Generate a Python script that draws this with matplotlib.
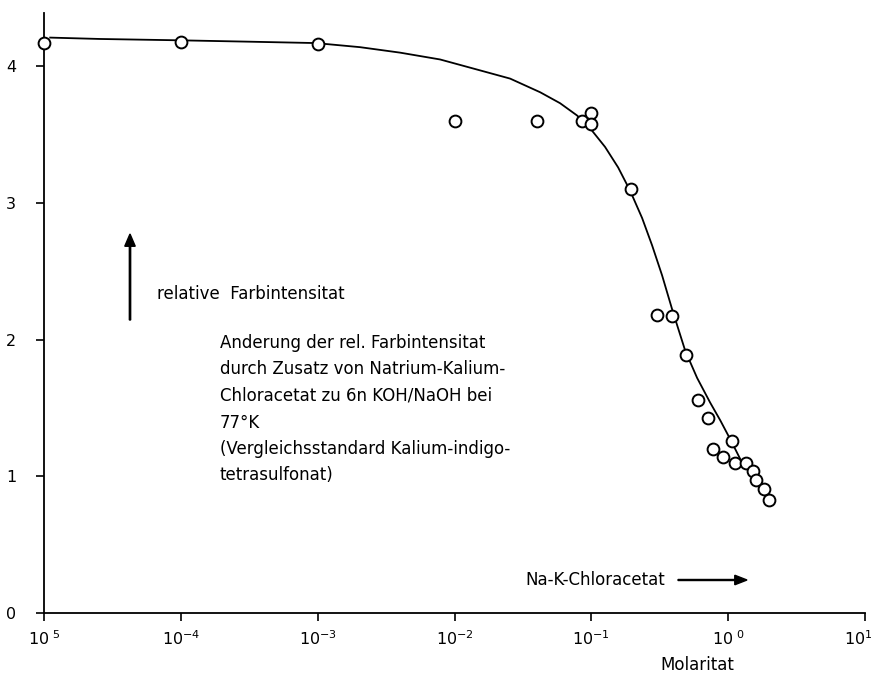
import matplotlib.pyplot as plt
from matplotlib.patches import FancyArrow
from matplotlib.transforms import ScaledTranslation

plt.rcParams['mathtext.default'] = 'regular'

# measured points (Molaritat, relative Farbintensitat)
molar = [1e-5, 1e-4, 1e-3, 1e-2, 0.040, 0.086, 0.10, 0.10, 0.196, 0.30,
         0.39, 0.49, 0.60, 0.71, 0.78, 0.91, 1.06, 1.13, 1.34, 1.51,
         1.59, 1.82, 2.0]
intens = [4.17, 4.18, 4.16, 3.60, 3.60, 3.60, 3.66, 3.58, 3.10, 2.18,
          2.17, 1.89, 1.56, 1.43, 1.20, 1.14, 1.26, 1.10, 1.10, 1.04,
          0.97, 0.91, 0.83]

# hand drawn curve
curve_x = [1.11e-5, 2.56e-5, 1e-4, 3.2e-4, 9.7e-4, 2.04e-3, 4.0e-3, 7.85e-3,
           0.0154, 0.0255, 0.0423, 0.0591, 0.0787, 0.101, 0.126, 0.157,
           0.192, 0.235, 0.278, 0.329, 0.390, 0.485, 0.593, 0.738, 0.875,
           1.05, 1.22]
curve_y = [4.21, 4.20, 4.19, 4.18, 4.17, 4.14, 4.10, 4.05,
           3.97, 3.91, 3.81, 3.73, 3.64, 3.53, 3.41, 3.26,
           3.09, 2.89, 2.69, 2.47, 2.22, 1.92, 1.72, 1.54, 1.41,
           1.26, 1.13]

xticks = [1e-5, 1e-4, 1e-3, 1e-2, 1e-1, 1e0, 1e1]
xtick_labels = [r'10$^{\ 5}$', r'10$^{-4}$', r'10$^{-3}$', r'10$^{-2}$',
                r'10$^{-1}$', r'10$^{\ 0}$', r'10$^{1}$']
yticks = [0, 1, 2, 3, 4]


def main():
    fig = plt.figure(figsize=(8.73, 6.81), dpi=100)
    ax = fig.add_axes([44 / 873, 68 / 681, 821 / 873, 600 / 681])

    ax.plot(curve_x, curve_y, color='black', lw=1.3, zorder=2)
    ax.plot(molar, intens, 'o', mfc='white', mec='black', mew=1.4, ms=8.5,
            zorder=3, clip_on=False)

    ax.set_xscale('log')
    ax.set_xlim(1e-5, 1e1)
    ax.set_ylim(0, 4.39)
    ax.set_xticks(xticks)
    ax.set_xticklabels(xtick_labels, fontsize=11.5)
    ax.minorticks_off()
    ax.set_yticks(yticks)
    ax.set_yticklabels([str(v) for v in yticks], fontsize=11.5)
    ax.tick_params(axis='both', direction='out', length=6, width=1.2)
    ax.tick_params(axis='y', pad=14)
    ax.tick_params(axis='x', pad=6)
    last = ax.get_xticklabels()[-1]
    last.set_transform(last.get_transform()
                       + ScaledTranslation(-0.07, 0, fig.dpi_scale_trans))

    ax.spines['top'].set_visible(False)
    ax.spines['right'].set_visible(False)
    ax.spines['left'].set_linewidth(1.3)
    ax.spines['bottom'].set_linewidth(1.3)

    # annotations placed in figure pixels
    fig.text(697 / 873, 1 - 665 / 681, 'Molaritat', ha='center', va='center',
             fontsize=12)
    fig.text(665 / 873, 1 - 580 / 681, 'Na-K-Chloracetat', ha='right',
             va='center', fontsize=12)
    fig.patches.append(FancyArrow(
        678 / 873, 1 - 580 / 681, 69 / 873, 0, width=0.0015,
        head_width=0.014, head_length=0.014, length_includes_head=True,
        color='black', transform=fig.transFigure))
    fig.patches.append(FancyArrow(
        130 / 873, 1 - 320 / 681, 0, 86 / 681, width=0.0015,
        head_width=0.012, head_length=0.018, length_includes_head=True,
        color='black', transform=fig.transFigure))
    fig.text(157 / 873, 1 - 294 / 681, 'relative  Farbintensitat',
             ha='left', va='center', fontsize=12)

    lines = ['Anderung der rel. Farbintensitat',
             'durch Zusatz von Natrium-Kalium-',
             'Chloracetat zu 6n KOH/NaOH bei',
             '77°K',
             '(Vergleichsstandard Kalium-indigo-',
             'tetrasulfonat)']
    for i, line in enumerate(lines):
        fig.text(220 / 873, 1 - (343 + i * 26.5) / 681, line, ha='left',
                 va='center', fontsize=12)

    fig.savefig('out.png', dpi=100)


if __name__ == '__main__':
    main()
